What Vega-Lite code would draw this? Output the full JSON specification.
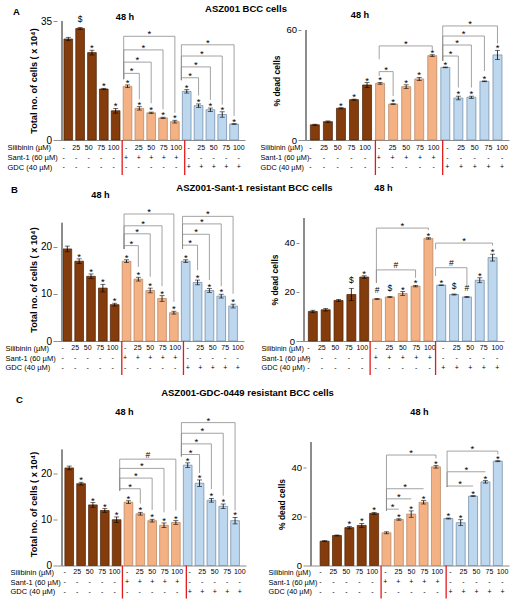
{
"$schema": "https://vega.github.io/schema/vega-lite/v6.json",
"padding": {"left": 5, "top": 3, "right": 2, "bottom": 2},
"background": "white",
"spacing": 6,
"config": {
  "font": "Liberation Sans",
  "view": {"stroke": null},
  "title": {"font": "Liberation Sans", "fontWeight": "bold", "fontSize": 9.5, "color": "#000"},
  "axis": {"labelFont": "Liberation Sans", "titleFont": "Liberation Sans", "labelColor": "#000", "titleColor": "#000", "domainColor": "#8c8c8c", "tickColor": "#8c8c8c", "grid": false},
  "axisY": {"domain": false, "tickSize": 4, "labelPadding": 1.5, "titlePadding": 2, "titleFontWeight": "bold", "labelFontSize": 10, "titleFontSize": 9.2},
  "axisX": {"labels": false, "ticks": false},
  "text": {"font": "Liberation Sans", "color": "#000"}
},
"datasets": {
"bars": [
{"p":"AL","x":1,"g":"S","v":29.7,"lo":29.2,"hi":30.2,"s":""},
{"p":"AL","x":2,"g":"S","v":32.8,"lo":32.5,"hi":33.1,"s":"$"},
{"p":"AL","x":3,"g":"S","v":25.7,"lo":25.0,"hi":26.4,"s":"*"},
{"p":"AL","x":4,"g":"S","v":15.0,"lo":14.8,"hi":15.2,"s":"*"},
{"p":"AL","x":5,"g":"S","v":8.6,"lo":7.9,"hi":9.3,"s":"*"},
{"p":"AL","x":6,"g":"T","v":15.8,"lo":15.4,"hi":16.2,"s":"*"},
{"p":"AL","x":7,"g":"T","v":9.3,"lo":8.8,"hi":9.8,"s":"*"},
{"p":"AL","x":8,"g":"T","v":8.0,"lo":7.8,"hi":8.2,"s":"*"},
{"p":"AL","x":9,"g":"T","v":6.5,"lo":6.3,"hi":6.7,"s":"*"},
{"p":"AL","x":10,"g":"T","v":5.4,"lo":5.0,"hi":5.8,"s":"*"},
{"p":"AL","x":11,"g":"G","v":14.3,"lo":13.8,"hi":14.8,"s":"*"},
{"p":"AL","x":12,"g":"G","v":10.1,"lo":9.6,"hi":10.6,"s":"*"},
{"p":"AL","x":13,"g":"G","v":8.9,"lo":8.4,"hi":9.4,"s":"*"},
{"p":"AL","x":14,"g":"G","v":7.5,"lo":6.7,"hi":8.3,"s":"*"},
{"p":"AL","x":15,"g":"G","v":4.7,"lo":4.6,"hi":4.8,"s":"*"},
{"p":"AR","x":1,"g":"S","v":8.3,"lo":8.0,"hi":8.6,"s":""},
{"p":"AR","x":2,"g":"S","v":10.0,"lo":9.6,"hi":10.4,"s":""},
{"p":"AR","x":3,"g":"S","v":17.3,"lo":17.0,"hi":17.6,"s":"*"},
{"p":"AR","x":4,"g":"S","v":22.0,"lo":21.7,"hi":22.3,"s":"*"},
{"p":"AR","x":5,"g":"S","v":30.0,"lo":28.7,"hi":31.3,"s":"*"},
{"p":"AR","x":6,"g":"T","v":30.9,"lo":30.4,"hi":31.4,"s":"*"},
{"p":"AR","x":7,"g":"T","v":19.6,"lo":19.4,"hi":19.8,"s":"*"},
{"p":"AR","x":8,"g":"T","v":29.1,"lo":28.1,"hi":30.1,"s":"*"},
{"p":"AR","x":9,"g":"T","v":33.3,"lo":32.5,"hi":34.1,"s":"*"},
{"p":"AR","x":10,"g":"T","v":46.0,"lo":45.5,"hi":46.5,"s":"*"},
{"p":"AR","x":11,"g":"G","v":39.6,"lo":39.4,"hi":39.8,"s":"*"},
{"p":"AR","x":12,"g":"G","v":22.9,"lo":21.9,"hi":23.9,"s":"*"},
{"p":"AR","x":13,"g":"G","v":23.3,"lo":22.7,"hi":23.9,"s":"*"},
{"p":"AR","x":14,"g":"G","v":32.0,"lo":31.8,"hi":32.2,"s":"*"},
{"p":"AR","x":15,"g":"G","v":46.4,"lo":43.9,"hi":48.9,"s":"*"},
{"p":"BL","x":1,"g":"S","v":19.5,"lo":18.9,"hi":20.1,"s":""},
{"p":"BL","x":2,"g":"S","v":16.9,"lo":16.4,"hi":17.4,"s":"*"},
{"p":"BL","x":3,"g":"S","v":13.7,"lo":13.2,"hi":14.2,"s":"*"},
{"p":"BL","x":4,"g":"S","v":11.2,"lo":10.4,"hi":12.0,"s":"*"},
{"p":"BL","x":5,"g":"S","v":7.7,"lo":7.4,"hi":8.0,"s":"*"},
{"p":"BL","x":6,"g":"T","v":16.9,"lo":16.6,"hi":17.2,"s":"*"},
{"p":"BL","x":7,"g":"T","v":13.1,"lo":12.7,"hi":13.5,"s":"*"},
{"p":"BL","x":8,"g":"T","v":10.7,"lo":10.2,"hi":11.2,"s":"*"},
{"p":"BL","x":9,"g":"T","v":9.0,"lo":8.4,"hi":9.6,"s":"*"},
{"p":"BL","x":10,"g":"T","v":6.0,"lo":5.7,"hi":6.3,"s":"*"},
{"p":"BL","x":11,"g":"G","v":16.9,"lo":16.6,"hi":17.2,"s":"*"},
{"p":"BL","x":12,"g":"G","v":12.4,"lo":11.9,"hi":12.9,"s":"*"},
{"p":"BL","x":13,"g":"G","v":10.7,"lo":10.3,"hi":11.1,"s":"*"},
{"p":"BL","x":14,"g":"G","v":9.5,"lo":9.1,"hi":9.9,"s":"*"},
{"p":"BL","x":15,"g":"G","v":7.4,"lo":7.0,"hi":7.8,"s":"*"},
{"p":"BR","x":1,"g":"S","v":12.0,"lo":11.5,"hi":12.5,"s":""},
{"p":"BR","x":2,"g":"S","v":12.7,"lo":12.2,"hi":13.2,"s":""},
{"p":"BR","x":3,"g":"S","v":16.5,"lo":16.1,"hi":16.9,"s":""},
{"p":"BR","x":4,"g":"S","v":18.9,"lo":16.4,"hi":21.4,"s":"$"},
{"p":"BR","x":5,"g":"S","v":26.0,"lo":25.5,"hi":26.5,"s":"*"},
{"p":"BR","x":6,"g":"T","v":17.1,"lo":16.9,"hi":17.3,"s":"#"},
{"p":"BR","x":7,"g":"T","v":17.9,"lo":17.7,"hi":18.1,"s":"$"},
{"p":"BR","x":8,"g":"T","v":19.3,"lo":18.5,"hi":20.1,"s":"*"},
{"p":"BR","x":9,"g":"T","v":22.3,"lo":22.0,"hi":22.6,"s":"*"},
{"p":"BR","x":10,"g":"T","v":41.7,"lo":41.4,"hi":42.0,"s":"*"},
{"p":"BR","x":11,"g":"G","v":22.7,"lo":22.6,"hi":22.8,"s":"*"},
{"p":"BR","x":12,"g":"G","v":18.9,"lo":18.7,"hi":19.1,"s":"$"},
{"p":"BR","x":13,"g":"G","v":17.9,"lo":17.7,"hi":18.1,"s":"#"},
{"p":"BR","x":14,"g":"G","v":24.7,"lo":23.7,"hi":25.7,"s":"*"},
{"p":"BR","x":15,"g":"G","v":33.9,"lo":32.5,"hi":35.3,"s":"*"},
{"p":"CL","x":1,"g":"S","v":21.1,"lo":20.7,"hi":21.5,"s":""},
{"p":"CL","x":2,"g":"S","v":17.7,"lo":17.4,"hi":18.0,"s":"*"},
{"p":"CL","x":3,"g":"S","v":13.1,"lo":12.6,"hi":13.6,"s":"*"},
{"p":"CL","x":4,"g":"S","v":11.9,"lo":11.5,"hi":12.3,"s":"*"},
{"p":"CL","x":5,"g":"S","v":9.9,"lo":9.3,"hi":10.5,"s":"*"},
{"p":"CL","x":6,"g":"T","v":13.7,"lo":13.4,"hi":14.0,"s":"*"},
{"p":"CL","x":7,"g":"T","v":11.2,"lo":10.9,"hi":11.5,"s":"*"},
{"p":"CL","x":8,"g":"T","v":9.7,"lo":9.4,"hi":10.0,"s":"*"},
{"p":"CL","x":9,"g":"T","v":8.7,"lo":8.2,"hi":9.2,"s":"*"},
{"p":"CL","x":10,"g":"T","v":9.3,"lo":8.9,"hi":9.7,"s":"*"},
{"p":"CL","x":11,"g":"G","v":21.7,"lo":21.2,"hi":22.2,"s":"*"},
{"p":"CL","x":12,"g":"G","v":17.8,"lo":17.1,"hi":18.5,"s":"*"},
{"p":"CL","x":13,"g":"G","v":14.1,"lo":13.7,"hi":14.5,"s":"*"},
{"p":"CL","x":14,"g":"G","v":12.8,"lo":12.3,"hi":13.3,"s":"*"},
{"p":"CL","x":15,"g":"G","v":9.7,"lo":9.0,"hi":10.4,"s":"*"},
{"p":"CR","x":1,"g":"S","v":9.9,"lo":9.7,"hi":10.1,"s":""},
{"p":"CR","x":2,"g":"S","v":12.2,"lo":12.0,"hi":12.4,"s":""},
{"p":"CR","x":3,"g":"S","v":15.4,"lo":14.9,"hi":15.9,"s":"*"},
{"p":"CR","x":4,"g":"S","v":16.3,"lo":15.5,"hi":17.1,"s":"*"},
{"p":"CR","x":5,"g":"S","v":21.2,"lo":20.8,"hi":21.6,"s":"*"},
{"p":"CR","x":6,"g":"T","v":13.3,"lo":12.9,"hi":13.7,"s":""},
{"p":"CR","x":7,"g":"T","v":18.7,"lo":18.4,"hi":19.0,"s":"*"},
{"p":"CR","x":8,"g":"T","v":20.9,"lo":19.6,"hi":22.2,"s":"*"},
{"p":"CR","x":9,"g":"T","v":25.7,"lo":25.0,"hi":26.4,"s":"*"},
{"p":"CR","x":10,"g":"T","v":40.1,"lo":39.6,"hi":40.6,"s":"*"},
{"p":"CR","x":11,"g":"G","v":19.1,"lo":18.9,"hi":19.3,"s":"*"},
{"p":"CR","x":12,"g":"G","v":17.4,"lo":16.2,"hi":18.6,"s":"*"},
{"p":"CR","x":13,"g":"G","v":28.2,"lo":28.0,"hi":28.4,"s":"*"},
{"p":"CR","x":14,"g":"G","v":34.0,"lo":33.5,"hi":34.5,"s":"*"},
{"p":"CR","x":15,"g":"G","v":42.4,"lo":42.2,"hi":42.6,"s":"*"}
],
"br": [
{"p":"AL","a":5.68,"b":7,"m":6.34,"l":19.6,"la":17.9,"lb":12.0,"s":"*"},
{"p":"AL","a":5.68,"b":8,"m":6.84,"l":22.9,"la":17.9,"lb":10.8,"s":"*"},
{"p":"AL","a":5.68,"b":9,"m":7.34,"l":26.5,"la":17.9,"lb":9.0,"s":"*"},
{"p":"AL","a":5.68,"b":10,"m":7.84,"l":30.5,"la":17.9,"lb":8.0,"s":"*"},
{"p":"AL","a":10.55,"b":12,"m":11.28,"l":18.3,"la":17.6,"lb":13.1,"s":"*"},
{"p":"AL","a":10.55,"b":13,"m":11.78,"l":21.5,"la":17.6,"lb":11.8,"s":"*"},
{"p":"AL","a":10.55,"b":14,"m":12.28,"l":24.7,"la":17.6,"lb":10.4,"s":"*"},
{"p":"AL","a":10.55,"b":15,"m":12.78,"l":28.0,"la":17.6,"lb":7.1,"s":"*"},
{"p":"AR","a":5.93,"b":7,"m":6.47,"l":37.3,"la":34.9,"lb":24.0,"s":"*"},
{"p":"AR","a":5.93,"b":10,"m":7.97,"l":51.3,"la":44.0,"lb":48.7,"s":"*"},
{"p":"AR","a":10.8,"b":12,"m":11.4,"l":45.8,"la":43.1,"lb":28.6,"s":"*"},
{"p":"AR","a":10.8,"b":13,"m":11.9,"l":51.8,"la":43.1,"lb":28.6,"s":"*"},
{"p":"AR","a":10.8,"b":14,"m":12.4,"l":56.7,"la":43.1,"lb":37.6,"s":"*"},
{"p":"AR","a":10.8,"b":15,"m":12.9,"l":62.2,"la":43.1,"lb":52.6,"s":"*"},
{"p":"BL","a":5.79,"b":7,"m":6.4,"l":20.2,"la":19.5,"lb":15.7,"s":"*"},
{"p":"BL","a":5.79,"b":8,"m":6.9,"l":22.7,"la":19.5,"lb":13.6,"s":"*"},
{"p":"BL","a":5.79,"b":9,"m":7.4,"l":24.4,"la":19.5,"lb":11.6,"s":"*"},
{"p":"BL","a":5.79,"b":10,"m":7.9,"l":26.9,"la":19.5,"lb":8.3,"s":"*"},
{"p":"BL","a":10.73,"b":12,"m":11.37,"l":20.3,"la":19.5,"lb":15.0,"s":"*"},
{"p":"BL","a":10.73,"b":13,"m":11.87,"l":22.6,"la":19.5,"lb":12.9,"s":"*"},
{"p":"BL","a":10.73,"b":14,"m":12.37,"l":24.8,"la":19.5,"lb":11.6,"s":"*"},
{"p":"BL","a":10.73,"b":15,"m":12.87,"l":26.4,"la":19.5,"lb":10.0,"s":"*"},
{"p":"BR","a":5.95,"b":9,"m":7.47,"l":28.9,"la":23.6,"lb":25.7,"s":"#"},
{"p":"BR","a":5.95,"b":10,"m":7.97,"l":45.9,"la":23.6,"lb":45.1,"s":"*"},
{"p":"BR","a":10.56,"b":13,"m":11.78,"l":29.8,"la":26.4,"lb":22.3,"s":"#"},
{"p":"BR","a":10.56,"b":15,"m":12.78,"l":39.8,"la":37.3,"lb":38.8,"s":"*"},
{"p":"CL","a":5.26,"b":7,"m":6.13,"l":16.6,"la":16.2,"lb":13.4,"s":"*"},
{"p":"CL","a":5.26,"b":8,"m":6.63,"l":18.9,"la":16.2,"lb":12.0,"s":"*"},
{"p":"CL","a":5.26,"b":9,"m":7.13,"l":21.0,"la":16.2,"lb":11.5,"s":"*"},
{"p":"CL","a":5.26,"b":10,"m":7.63,"l":23.0,"la":16.2,"lb":11.9,"s":"#"},
{"p":"CL","a":10.47,"b":12,"m":11.24,"l":24.0,"la":23.6,"lb":20.0,"s":"*"},
{"p":"CL","a":10.47,"b":13,"m":11.74,"l":26.3,"la":23.6,"lb":16.5,"s":"*"},
{"p":"CL","a":10.47,"b":14,"m":12.24,"l":28.6,"la":23.6,"lb":15.1,"s":"*"},
{"p":"CL","a":10.47,"b":15,"m":12.74,"l":30.9,"la":23.6,"lb":11.9,"s":"*"},
{"p":"CR","a":6.0,"b":7,"m":6.5,"l":22.9,"la":22.2,"lb":22.9,"s":"*"},
{"p":"CR","a":6.0,"b":8,"m":7.0,"l":27.1,"la":22.2,"lb":27.1,"s":"*"},
{"p":"CR","a":6.0,"b":9,"m":7.5,"l":31.2,"la":22.2,"lb":31.2,"s":"*"},
{"p":"CR","a":6.0,"b":10,"m":8.0,"l":44.9,"la":22.2,"lb":43.5,"s":"*"},
{"p":"CR","a":10.9,"b":13,"m":11.95,"l":32.3,"la":31.9,"lb":32.3,"s":"*"},
{"p":"CR","a":10.9,"b":14,"m":12.45,"l":38.1,"la":31.9,"lb":38.1,"s":"*"},
{"p":"CR","a":10.9,"b":15,"m":12.95,"l":46.5,"la":31.9,"lb":45.2,"s":"*"}
],
"sep": [
{"p":"AL","x":5.68},{"p":"AL","x":10.68},
{"p":"AR","x":5.75},{"p":"AR","x":10.66},
{"p":"BL","x":5.73},{"p":"BL","x":10.66},
{"p":"BR","x":5.58},{"p":"BR","x":10.43},
{"p":"CL","x":5.62},{"p":"CL","x":10.73},
{"p":"CR","x":5.67},{"p":"CR","x":10.67}
],
"tbl": [
{"x":1,"r":"Silibinin (µM)","t":"-"},{"x":2,"r":"Silibinin (µM)","t":"25"},{"x":3,"r":"Silibinin (µM)","t":"50"},{"x":4,"r":"Silibinin (µM)","t":"75"},{"x":5,"r":"Silibinin (µM)","t":"100"},
{"x":6,"r":"Silibinin (µM)","t":"-"},{"x":7,"r":"Silibinin (µM)","t":"25"},{"x":8,"r":"Silibinin (µM)","t":"50"},{"x":9,"r":"Silibinin (µM)","t":"75"},{"x":10,"r":"Silibinin (µM)","t":"100"},
{"x":11,"r":"Silibinin (µM)","t":"-"},{"x":12,"r":"Silibinin (µM)","t":"25"},{"x":13,"r":"Silibinin (µM)","t":"50"},{"x":14,"r":"Silibinin (µM)","t":"75"},{"x":15,"r":"Silibinin (µM)","t":"100"},
{"x":1,"r":"Sant-1 (60 µM)","t":"-"},{"x":2,"r":"Sant-1 (60 µM)","t":"-"},{"x":3,"r":"Sant-1 (60 µM)","t":"-"},{"x":4,"r":"Sant-1 (60 µM)","t":"-"},{"x":5,"r":"Sant-1 (60 µM)","t":"-"},
{"x":6,"r":"Sant-1 (60 µM)","t":"+"},{"x":7,"r":"Sant-1 (60 µM)","t":"+"},{"x":8,"r":"Sant-1 (60 µM)","t":"+"},{"x":9,"r":"Sant-1 (60 µM)","t":"+"},{"x":10,"r":"Sant-1 (60 µM)","t":"+"},
{"x":11,"r":"Sant-1 (60 µM)","t":"-"},{"x":12,"r":"Sant-1 (60 µM)","t":"-"},{"x":13,"r":"Sant-1 (60 µM)","t":"-"},{"x":14,"r":"Sant-1 (60 µM)","t":"-"},{"x":15,"r":"Sant-1 (60 µM)","t":"-"},
{"x":1,"r":"GDC (40 µM)","t":"-"},{"x":2,"r":"GDC (40 µM)","t":"-"},{"x":3,"r":"GDC (40 µM)","t":"-"},{"x":4,"r":"GDC (40 µM)","t":"-"},{"x":5,"r":"GDC (40 µM)","t":"-"},
{"x":6,"r":"GDC (40 µM)","t":"-"},{"x":7,"r":"GDC (40 µM)","t":"-"},{"x":8,"r":"GDC (40 µM)","t":"-"},{"x":9,"r":"GDC (40 µM)","t":"-"},{"x":10,"r":"GDC (40 µM)","t":"-"},
{"x":11,"r":"GDC (40 µM)","t":"+"},{"x":12,"r":"GDC (40 µM)","t":"+"},{"x":13,"r":"GDC (40 µM)","t":"+"},{"x":14,"r":"GDC (40 µM)","t":"+"},{"x":15,"r":"GDC (40 µM)","t":"+"}
]
},
"vconcat": [
{
 "title": {"text": "ASZ001 BCC cells", "anchor": "middle", "frame": "bounds", "dx": -12, "offset": -6, "fontSize": 9.5},
 "spacing": 15,
 "hconcat": [
  {"title": {"text": "A", "anchor": "start", "frame": "bounds", "dx": 6, "offset": -4, "fontSize": 9.5},
   "spacing": 0, "bounds": "flush",
   "vconcat": [
    {"title": {"text": "48 h", "frame": "group", "anchor": "middle", "dx": -26, "offset": -6.5, "fontSize": 9.2},
     "width": 188, "height": 119,
     "layer": [
      {"data": {"name": "bars"}, "transform": [{"filter": "datum.p === 'AL'"}],
       "layer": [
        {"mark": {"type": "bar", "width": 8.7, "strokeWidth": 0.7},
         "encoding": {
          "x": {"field": "x", "type": "quantitative", "scale": {"domain": [0.47, 15.5], "nice": false, "zero": false}, "title": null},
          "y": {"field": "v", "type": "quantitative", "scale": {"domain": [0, 35], "nice": false}, "axis": {"values": [0,5,10,15,20,25,30,35]}, "title": "Total no. of cells ( x 10⁴)"},
          "color": {"field": "g", "type": "nominal", "scale": {"domain": ["S","T","G"], "range": ["#843c0c","#f4b183","#bdd7ee"]}, "legend": null},
          "stroke": {"field": "g", "type": "nominal", "scale": {"domain": ["S","T","G"], "range": ["#4a1f05","#b3835f","#6b86a3"]}, "legend": null}}},
        {"mark": {"type": "rule", "color": "#8c8c8c", "strokeWidth": 1},
         "encoding": {
          "x": {"datum": 0.47, "type": "quantitative", "scale": {"domain": [0.47, 15.5], "nice": false, "zero": false}, "title": null},
          "y": {"datum": 0, "type": "quantitative", "scale": {"domain": [0, 35], "nice": false}, "title": "Total no. of cells ( x 10⁴)"},
          "y2": {"datum": 35}}},
        {"mark": {"type": "errorbar", "ticks": {"size": 5}, "thickness": 0.8, "color": "#000"},
         "encoding": {
          "x": {"field": "x", "type": "quantitative", "scale": {"domain": [0.47, 15.5], "nice": false, "zero": false}, "title": null},
          "y": {"field": "lo", "type": "quantitative", "scale": {"domain": [0, 35], "nice": false}, "title": "Total no. of cells ( x 10⁴)"},
          "y2": {"field": "hi"}}},
        {"transform": [{"filter": "datum.s === '*'"}],
         "mark": {"type": "text", "fontSize": 9.5, "dy": 1, "baseline": "alphabetic"},
         "encoding": {
          "x": {"field": "x", "type": "quantitative", "scale": {"domain": [0.47, 15.5], "nice": false, "zero": false}, "title": null},
          "y": {"field": "hi", "type": "quantitative", "scale": {"domain": [0, 35], "nice": false}, "title": "Total no. of cells ( x 10⁴)"},
          "text": {"field": "s"}}},
        {"transform": [{"filter": "datum.s === '$' || datum.s === '#'"}],
         "mark": {"type": "text", "fontSize": 8.5, "dy": -5, "baseline": "alphabetic"},
         "encoding": {
          "x": {"field": "x", "type": "quantitative", "scale": {"domain": [0.47, 15.5], "nice": false, "zero": false}, "title": null},
          "y": {"field": "hi", "type": "quantitative", "scale": {"domain": [0, 35], "nice": false}, "title": "Total no. of cells ( x 10⁴)"},
          "text": {"field": "s"}}}
       ]},
      {"data": {"name": "br"}, "transform": [{"filter": "datum.p === 'AL'"}],
       "layer": [
        {"mark": {"type": "rule", "color": "#8c8c8c", "strokeWidth": 0.8},
         "encoding": {
          "x": {"field": "a", "type": "quantitative", "scale": {"domain": [0.47, 15.5], "nice": false, "zero": false}, "title": null},
          "x2": {"field": "b"},
          "y": {"field": "l", "type": "quantitative", "scale": {"domain": [0, 35], "nice": false}, "title": "Total no. of cells ( x 10⁴)"}}},
        {"mark": {"type": "rule", "color": "#8c8c8c", "strokeWidth": 0.8},
         "encoding": {
          "x": {"field": "a", "type": "quantitative", "scale": {"domain": [0.47, 15.5], "nice": false, "zero": false}, "title": null},
          "y": {"field": "l", "type": "quantitative", "scale": {"domain": [0, 35], "nice": false}, "title": "Total no. of cells ( x 10⁴)"},
          "y2": {"field": "la"}}},
        {"mark": {"type": "rule", "color": "#8c8c8c", "strokeWidth": 0.8},
         "encoding": {
          "x": {"field": "b", "type": "quantitative", "scale": {"domain": [0.47, 15.5], "nice": false, "zero": false}, "title": null},
          "y": {"field": "l", "type": "quantitative", "scale": {"domain": [0, 35], "nice": false}, "title": "Total no. of cells ( x 10⁴)"},
          "y2": {"field": "lb"}}},
        {"transform": [{"filter": "datum.s === '*'"}],
         "mark": {"type": "text", "fontSize": 9.5, "dy": 1, "baseline": "alphabetic"},
         "encoding": {
          "x": {"field": "m", "type": "quantitative", "scale": {"domain": [0.47, 15.5], "nice": false, "zero": false}, "title": null},
          "y": {"field": "l", "type": "quantitative", "scale": {"domain": [0, 35], "nice": false}, "title": "Total no. of cells ( x 10⁴)"},
          "text": {"field": "s"}}},
        {"transform": [{"filter": "datum.s === '#'"}],
         "mark": {"type": "text", "fontSize": 8.5, "dy": -1.5, "baseline": "alphabetic"},
         "encoding": {
          "x": {"field": "m", "type": "quantitative", "scale": {"domain": [0.47, 15.5], "nice": false, "zero": false}, "title": null},
          "y": {"field": "l", "type": "quantitative", "scale": {"domain": [0, 35], "nice": false}, "title": "Total no. of cells ( x 10⁴)"},
          "text": {"field": "s"}}}
       ]}
     ]},
    {"width": 188, "height": 35,
     "layer": [
      {"data": {"name": "tbl"},
       "mark": {"type": "text", "fontSize": 7},
       "encoding": {
        "x": {"field": "x", "type": "quantitative", "scale": {"domain": [0.47, 15.5], "nice": false, "zero": false}, "axis": null},
        "y": {"field": "r", "type": "nominal", "sort": ["Silibinin (µM)", "Sant-1 (60 µM)", "GDC (40 µM)"], "scale": {"type": "point", "padding": 0.84}, "axis": {"title": null, "domain": false, "ticks": false, "tickSize": 0, "labelAlign": "left", "labelPadding": 50, "labelFontSize": 7.5}},
        "text": {"field": "t"}}},
      {"data": {"name": "sep"}, "transform": [{"filter": "datum.p === 'AL'"}],
       "mark": {"type": "rule", "color": "#e31a1c", "strokeWidth": 1.3},
       "encoding": {"x": {"field": "x", "type": "quantitative", "scale": {"domain": [0.47, 15.5], "nice": false, "zero": false}, "axis": null}}}
     ]}
   ]},
  {"spacing": 0, "bounds": "flush",
   "vconcat": [
    {"title": {"text": "48 h", "frame": "group", "anchor": "middle", "dx": -45, "offset": -1, "fontSize": 9.2},
     "width": 208, "height": 119,
     "layer": [
      {"data": {"name": "bars"}, "transform": [{"filter": "datum.p === 'AR'"}],
       "layer": [
        {"mark": {"type": "bar", "width": 9, "strokeWidth": 0.7},
         "encoding": {
          "x": {"field": "x", "type": "quantitative", "scale": {"domain": [0.32, 15.5], "nice": false, "zero": false}, "title": null},
          "y": {"field": "v", "type": "quantitative", "scale": {"domain": [0, 64.9], "nice": false}, "axis": {"values": [0,10,20,30,40,50,60], "labelFontSize": 9.5, "titleFontSize": 8.5, "tickSize": 3, "titlePadding": 4}, "title": "% dead cells"},
          "color": {"field": "g", "type": "nominal", "scale": {"domain": ["S","T","G"], "range": ["#843c0c","#f8cbad","#bdd7ee"]}, "legend": null},
          "stroke": {"field": "g", "type": "nominal", "scale": {"domain": ["S","T","G"], "range": ["#4a1f05","#b3835f","#6b86a3"]}, "legend": null}}},
        {"mark": {"type": "rule", "color": "#8c8c8c", "strokeWidth": 1},
         "encoding": {
          "x": {"datum": 0.32, "type": "quantitative", "scale": {"domain": [0.32, 15.5], "nice": false, "zero": false}, "title": null},
          "y": {"datum": 0, "type": "quantitative", "scale": {"domain": [0, 64.9], "nice": false}, "title": "% dead cells"},
          "y2": {"datum": 60}}},
        {"mark": {"type": "errorbar", "ticks": {"size": 5}, "thickness": 0.8, "color": "#000"},
         "encoding": {
          "x": {"field": "x", "type": "quantitative", "scale": {"domain": [0.32, 15.5], "nice": false, "zero": false}, "title": null},
          "y": {"field": "lo", "type": "quantitative", "scale": {"domain": [0, 64.9], "nice": false}, "title": "% dead cells"},
          "y2": {"field": "hi"}}},
        {"transform": [{"filter": "datum.s === '*'"}],
         "mark": {"type": "text", "fontSize": 9.5, "dy": 1, "baseline": "alphabetic"},
         "encoding": {
          "x": {"field": "x", "type": "quantitative", "scale": {"domain": [0.32, 15.5], "nice": false, "zero": false}, "title": null},
          "y": {"field": "hi", "type": "quantitative", "scale": {"domain": [0, 64.9], "nice": false}, "title": "% dead cells"},
          "text": {"field": "s"}}},
        {"transform": [{"filter": "datum.s === '$' || datum.s === '#'"}],
         "mark": {"type": "text", "fontSize": 8.5, "dy": -5, "baseline": "alphabetic"},
         "encoding": {
          "x": {"field": "x", "type": "quantitative", "scale": {"domain": [0.32, 15.5], "nice": false, "zero": false}, "title": null},
          "y": {"field": "hi", "type": "quantitative", "scale": {"domain": [0, 64.9], "nice": false}, "title": "% dead cells"},
          "text": {"field": "s"}}}
       ]},
      {"data": {"name": "br"}, "transform": [{"filter": "datum.p === 'AR'"}],
       "layer": [
        {"mark": {"type": "rule", "color": "#8c8c8c", "strokeWidth": 0.8},
         "encoding": {
          "x": {"field": "a", "type": "quantitative", "scale": {"domain": [0.32, 15.5], "nice": false, "zero": false}, "title": null},
          "x2": {"field": "b"},
          "y": {"field": "l", "type": "quantitative", "scale": {"domain": [0, 64.9], "nice": false}, "title": "% dead cells"}}},
        {"mark": {"type": "rule", "color": "#8c8c8c", "strokeWidth": 0.8},
         "encoding": {
          "x": {"field": "a", "type": "quantitative", "scale": {"domain": [0.32, 15.5], "nice": false, "zero": false}, "title": null},
          "y": {"field": "l", "type": "quantitative", "scale": {"domain": [0, 64.9], "nice": false}, "title": "% dead cells"},
          "y2": {"field": "la"}}},
        {"mark": {"type": "rule", "color": "#8c8c8c", "strokeWidth": 0.8},
         "encoding": {
          "x": {"field": "b", "type": "quantitative", "scale": {"domain": [0.32, 15.5], "nice": false, "zero": false}, "title": null},
          "y": {"field": "l", "type": "quantitative", "scale": {"domain": [0, 64.9], "nice": false}, "title": "% dead cells"},
          "y2": {"field": "lb"}}},
        {"transform": [{"filter": "datum.s === '*'"}],
         "mark": {"type": "text", "fontSize": 9.5, "dy": 1, "baseline": "alphabetic"},
         "encoding": {
          "x": {"field": "m", "type": "quantitative", "scale": {"domain": [0.32, 15.5], "nice": false, "zero": false}, "title": null},
          "y": {"field": "l", "type": "quantitative", "scale": {"domain": [0, 64.9], "nice": false}, "title": "% dead cells"},
          "text": {"field": "s"}}},
        {"transform": [{"filter": "datum.s === '#'"}],
         "mark": {"type": "text", "fontSize": 8.5, "dy": -1.5, "baseline": "alphabetic"},
         "encoding": {
          "x": {"field": "m", "type": "quantitative", "scale": {"domain": [0.32, 15.5], "nice": false, "zero": false}, "title": null},
          "y": {"field": "l", "type": "quantitative", "scale": {"domain": [0, 64.9], "nice": false}, "title": "% dead cells"},
          "text": {"field": "s"}}}
       ]}
     ]},
    {"width": 208, "height": 35,
     "layer": [
      {"data": {"name": "tbl"},
       "mark": {"type": "text", "fontSize": 7},
       "encoding": {
        "x": {"field": "x", "type": "quantitative", "scale": {"domain": [0.32, 15.5], "nice": false, "zero": false}, "axis": null},
        "y": {"field": "r", "type": "nominal", "sort": ["Silibinin (µM)", "Sant-1 (60 µM)", "GDC (40 µM)"], "scale": {"type": "point", "padding": 0.84}, "axis": {"title": null, "domain": false, "ticks": false, "tickSize": 0, "labelAlign": "left", "labelPadding": 41, "labelFontSize": 7.3}},
        "text": {"field": "t"}}},
      {"data": {"name": "sep"}, "transform": [{"filter": "datum.p === 'AR'"}],
       "mark": {"type": "rule", "color": "#e31a1c", "strokeWidth": 1.3},
       "encoding": {"x": {"field": "x", "type": "quantitative", "scale": {"domain": [0.32, 15.5], "nice": false, "zero": false}, "axis": null}}}
     ]}
   ]}
 ]
},
{
"spacing": 11.5,
"vconcat": [
{
 "title": {"text": "ASZ001-Sant-1 resistant BCC cells", "anchor": "middle", "frame": "bounds", "dx": 0, "offset": -8, "fontSize": 9.5},
 "spacing": 17,
 "hconcat": [
  {"title": {"text": "B", "anchor": "start", "frame": "bounds", "dx": 6, "offset": -4, "fontSize": 9.5},
   "spacing": 0, "bounds": "flush",
   "vconcat": [
    {"title": {"text": "48 h", "frame": "group", "anchor": "middle", "dx": -50, "offset": 7, "fontSize": 9.2},
     "width": 187, "height": 123,
     "layer": [
      {"data": {"name": "bars"}, "transform": [{"filter": "datum.p === 'BL'"}],
       "layer": [
        {"mark": {"type": "bar", "width": 8.7, "strokeWidth": 0.7},
         "encoding": {
          "x": {"field": "x", "type": "quantitative", "scale": {"domain": [0.55, 15.5], "nice": false, "zero": false}, "title": null},
          "y": {"field": "v", "type": "quantitative", "scale": {"domain": [0, 26.05], "nice": false}, "axis": {"values": [0,5,10,15,20,25]}, "title": "Total no. of cells ( x 10⁴)"},
          "color": {"field": "g", "type": "nominal", "scale": {"domain": ["S","T","G"], "range": ["#843c0c","#f6bf99","#bdd7ee"]}, "legend": null},
          "stroke": {"field": "g", "type": "nominal", "scale": {"domain": ["S","T","G"], "range": ["#4a1f05","#b3835f","#6b86a3"]}, "legend": null}}},
        {"mark": {"type": "rule", "color": "#8c8c8c", "strokeWidth": 1},
         "encoding": {
          "x": {"datum": 0.55, "type": "quantitative", "scale": {"domain": [0.55, 15.5], "nice": false, "zero": false}, "title": null},
          "y": {"datum": 0, "type": "quantitative", "scale": {"domain": [0, 26.05], "nice": false}, "title": "Total no. of cells ( x 10⁴)"},
          "y2": {"datum": 25}}},
        {"mark": {"type": "errorbar", "ticks": {"size": 5}, "thickness": 0.8, "color": "#000"},
         "encoding": {
          "x": {"field": "x", "type": "quantitative", "scale": {"domain": [0.55, 15.5], "nice": false, "zero": false}, "title": null},
          "y": {"field": "lo", "type": "quantitative", "scale": {"domain": [0, 26.05], "nice": false}, "title": "Total no. of cells ( x 10⁴)"},
          "y2": {"field": "hi"}}},
        {"transform": [{"filter": "datum.s === '*'"}],
         "mark": {"type": "text", "fontSize": 9.5, "dy": 1, "baseline": "alphabetic"},
         "encoding": {
          "x": {"field": "x", "type": "quantitative", "scale": {"domain": [0.55, 15.5], "nice": false, "zero": false}, "title": null},
          "y": {"field": "hi", "type": "quantitative", "scale": {"domain": [0, 26.05], "nice": false}, "title": "Total no. of cells ( x 10⁴)"},
          "text": {"field": "s"}}},
        {"transform": [{"filter": "datum.s === '$' || datum.s === '#'"}],
         "mark": {"type": "text", "fontSize": 8.5, "dy": -5, "baseline": "alphabetic"},
         "encoding": {
          "x": {"field": "x", "type": "quantitative", "scale": {"domain": [0.55, 15.5], "nice": false, "zero": false}, "title": null},
          "y": {"field": "hi", "type": "quantitative", "scale": {"domain": [0, 26.05], "nice": false}, "title": "Total no. of cells ( x 10⁴)"},
          "text": {"field": "s"}}}
       ]},
      {"data": {"name": "br"}, "transform": [{"filter": "datum.p === 'BL'"}],
       "layer": [
        {"mark": {"type": "rule", "color": "#8c8c8c", "strokeWidth": 0.8},
         "encoding": {
          "x": {"field": "a", "type": "quantitative", "scale": {"domain": [0.55, 15.5], "nice": false, "zero": false}, "title": null},
          "x2": {"field": "b"},
          "y": {"field": "l", "type": "quantitative", "scale": {"domain": [0, 26.05], "nice": false}, "title": "Total no. of cells ( x 10⁴)"}}},
        {"mark": {"type": "rule", "color": "#8c8c8c", "strokeWidth": 0.8},
         "encoding": {
          "x": {"field": "a", "type": "quantitative", "scale": {"domain": [0.55, 15.5], "nice": false, "zero": false}, "title": null},
          "y": {"field": "l", "type": "quantitative", "scale": {"domain": [0, 26.05], "nice": false}, "title": "Total no. of cells ( x 10⁴)"},
          "y2": {"field": "la"}}},
        {"mark": {"type": "rule", "color": "#8c8c8c", "strokeWidth": 0.8},
         "encoding": {
          "x": {"field": "b", "type": "quantitative", "scale": {"domain": [0.55, 15.5], "nice": false, "zero": false}, "title": null},
          "y": {"field": "l", "type": "quantitative", "scale": {"domain": [0, 26.05], "nice": false}, "title": "Total no. of cells ( x 10⁴)"},
          "y2": {"field": "lb"}}},
        {"transform": [{"filter": "datum.s === '*'"}],
         "mark": {"type": "text", "fontSize": 9.5, "dy": 1, "baseline": "alphabetic"},
         "encoding": {
          "x": {"field": "m", "type": "quantitative", "scale": {"domain": [0.55, 15.5], "nice": false, "zero": false}, "title": null},
          "y": {"field": "l", "type": "quantitative", "scale": {"domain": [0, 26.05], "nice": false}, "title": "Total no. of cells ( x 10⁴)"},
          "text": {"field": "s"}}},
        {"transform": [{"filter": "datum.s === '#'"}],
         "mark": {"type": "text", "fontSize": 8.5, "dy": -1.5, "baseline": "alphabetic"},
         "encoding": {
          "x": {"field": "m", "type": "quantitative", "scale": {"domain": [0.55, 15.5], "nice": false, "zero": false}, "title": null},
          "y": {"field": "l", "type": "quantitative", "scale": {"domain": [0, 26.05], "nice": false}, "title": "Total no. of cells ( x 10⁴)"},
          "text": {"field": "s"}}}
       ]}
     ]},
    {"width": 187, "height": 34,
     "layer": [
      {"data": {"name": "tbl"},
       "mark": {"type": "text", "fontSize": 7},
       "encoding": {
        "x": {"field": "x", "type": "quantitative", "scale": {"domain": [0.55, 15.5], "nice": false, "zero": false}, "axis": null},
        "y": {"field": "r", "type": "nominal", "sort": ["Silibinin (µM)", "Sant-1 (60 µM)", "GDC (40 µM)"], "scale": {"type": "point", "padding": 0.77}, "axis": {"title": null, "domain": false, "ticks": false, "tickSize": 0, "labelAlign": "left", "labelPadding": 52, "labelFontSize": 7.5}},
        "text": {"field": "t"}}},
      {"data": {"name": "sep"}, "transform": [{"filter": "datum.p === 'BL'"}],
       "mark": {"type": "rule", "color": "#e31a1c", "strokeWidth": 1.3},
       "encoding": {"x": {"field": "x", "type": "quantitative", "scale": {"domain": [0.55, 15.5], "nice": false, "zero": false}, "axis": null}}}
     ]}
   ]},
  {"spacing": 0, "bounds": "flush",
   "vconcat": [
    {"title": {"text": "48 h", "frame": "group", "anchor": "middle", "dx": -18, "offset": 24, "fontSize": 9.2},
     "width": 205, "height": 123,
     "layer": [
      {"data": {"name": "bars"}, "transform": [{"filter": "datum.p === 'BR'"}],
       "layer": [
        {"mark": {"type": "bar", "width": 9, "strokeWidth": 0.7},
         "encoding": {
          "x": {"field": "x", "type": "quantitative", "scale": {"domain": [0.31, 15.5], "nice": false, "zero": false}, "title": null},
          "y": {"field": "v", "type": "quantitative", "scale": {"domain": [0, 50], "nice": false}, "axis": {"values": [0,10,20,30,40,50], "labelFontSize": 9.5, "titleFontSize": 8.5, "tickSize": 3, "titlePadding": 4}, "title": "% dead cells"},
          "color": {"field": "g", "type": "nominal", "scale": {"domain": ["S","T","G"], "range": ["#843c0c","#f8cbad","#bdd7ee"]}, "legend": null},
          "stroke": {"field": "g", "type": "nominal", "scale": {"domain": ["S","T","G"], "range": ["#4a1f05","#b3835f","#6b86a3"]}, "legend": null}}},
        {"mark": {"type": "rule", "color": "#8c8c8c", "strokeWidth": 1},
         "encoding": {
          "x": {"datum": 0.31, "type": "quantitative", "scale": {"domain": [0.31, 15.5], "nice": false, "zero": false}, "title": null},
          "y": {"datum": 0, "type": "quantitative", "scale": {"domain": [0, 50], "nice": false}, "title": "% dead cells"},
          "y2": {"datum": 50}}},
        {"mark": {"type": "errorbar", "ticks": {"size": 5}, "thickness": 0.8, "color": "#000"},
         "encoding": {
          "x": {"field": "x", "type": "quantitative", "scale": {"domain": [0.31, 15.5], "nice": false, "zero": false}, "title": null},
          "y": {"field": "lo", "type": "quantitative", "scale": {"domain": [0, 50], "nice": false}, "title": "% dead cells"},
          "y2": {"field": "hi"}}},
        {"transform": [{"filter": "datum.s === '*'"}],
         "mark": {"type": "text", "fontSize": 9.5, "dy": 1, "baseline": "alphabetic"},
         "encoding": {
          "x": {"field": "x", "type": "quantitative", "scale": {"domain": [0.31, 15.5], "nice": false, "zero": false}, "title": null},
          "y": {"field": "hi", "type": "quantitative", "scale": {"domain": [0, 50], "nice": false}, "title": "% dead cells"},
          "text": {"field": "s"}}},
        {"transform": [{"filter": "datum.s === '$' || datum.s === '#'"}],
         "mark": {"type": "text", "fontSize": 8.5, "dy": -5, "baseline": "alphabetic"},
         "encoding": {
          "x": {"field": "x", "type": "quantitative", "scale": {"domain": [0.31, 15.5], "nice": false, "zero": false}, "title": null},
          "y": {"field": "hi", "type": "quantitative", "scale": {"domain": [0, 50], "nice": false}, "title": "% dead cells"},
          "text": {"field": "s"}}}
       ]},
      {"data": {"name": "br"}, "transform": [{"filter": "datum.p === 'BR'"}],
       "layer": [
        {"mark": {"type": "rule", "color": "#8c8c8c", "strokeWidth": 0.8},
         "encoding": {
          "x": {"field": "a", "type": "quantitative", "scale": {"domain": [0.31, 15.5], "nice": false, "zero": false}, "title": null},
          "x2": {"field": "b"},
          "y": {"field": "l", "type": "quantitative", "scale": {"domain": [0, 50], "nice": false}, "title": "% dead cells"}}},
        {"mark": {"type": "rule", "color": "#8c8c8c", "strokeWidth": 0.8},
         "encoding": {
          "x": {"field": "a", "type": "quantitative", "scale": {"domain": [0.31, 15.5], "nice": false, "zero": false}, "title": null},
          "y": {"field": "l", "type": "quantitative", "scale": {"domain": [0, 50], "nice": false}, "title": "% dead cells"},
          "y2": {"field": "la"}}},
        {"mark": {"type": "rule", "color": "#8c8c8c", "strokeWidth": 0.8},
         "encoding": {
          "x": {"field": "b", "type": "quantitative", "scale": {"domain": [0.31, 15.5], "nice": false, "zero": false}, "title": null},
          "y": {"field": "l", "type": "quantitative", "scale": {"domain": [0, 50], "nice": false}, "title": "% dead cells"},
          "y2": {"field": "lb"}}},
        {"transform": [{"filter": "datum.s === '*'"}],
         "mark": {"type": "text", "fontSize": 9.5, "dy": 1, "baseline": "alphabetic"},
         "encoding": {
          "x": {"field": "m", "type": "quantitative", "scale": {"domain": [0.31, 15.5], "nice": false, "zero": false}, "title": null},
          "y": {"field": "l", "type": "quantitative", "scale": {"domain": [0, 50], "nice": false}, "title": "% dead cells"},
          "text": {"field": "s"}}},
        {"transform": [{"filter": "datum.s === '#'"}],
         "mark": {"type": "text", "fontSize": 8.5, "dy": -1.5, "baseline": "alphabetic"},
         "encoding": {
          "x": {"field": "m", "type": "quantitative", "scale": {"domain": [0.31, 15.5], "nice": false, "zero": false}, "title": null},
          "y": {"field": "l", "type": "quantitative", "scale": {"domain": [0, 50], "nice": false}, "title": "% dead cells"},
          "text": {"field": "s"}}}
       ]}
     ]},
    {"width": 205, "height": 34,
     "layer": [
      {"data": {"name": "tbl"},
       "mark": {"type": "text", "fontSize": 7},
       "encoding": {
        "x": {"field": "x", "type": "quantitative", "scale": {"domain": [0.31, 15.5], "nice": false, "zero": false}, "axis": null},
        "y": {"field": "r", "type": "nominal", "sort": ["Silibinin (µM)", "Sant-1 (60 µM)", "GDC (40 µM)"], "scale": {"type": "point", "padding": 0.77}, "axis": {"title": null, "domain": false, "ticks": false, "tickSize": 0, "labelAlign": "left", "labelPadding": 38, "labelFontSize": 7.3}},
        "text": {"field": "t"}}},
      {"data": {"name": "sep"}, "transform": [{"filter": "datum.p === 'BR'"}],
       "mark": {"type": "rule", "color": "#e31a1c", "strokeWidth": 1.3},
       "encoding": {"x": {"field": "x", "type": "quantitative", "scale": {"domain": [0.31, 15.5], "nice": false, "zero": false}, "axis": null}}}
     ]}
   ]}
 ]
},
{
 "title": {"text": "ASZ001-GDC-0449 resistant BCC cells", "anchor": "middle", "frame": "bounds", "dx": -12, "offset": -2, "fontSize": 9.5},
 "spacing": 22,
 "hconcat": [
  {"title": {"text": "C", "anchor": "start", "frame": "bounds", "dx": 6, "offset": 3, "fontSize": 9.5},
   "spacing": 0, "bounds": "flush",
   "vconcat": [
    {"title": {"text": "48 h", "frame": "group", "anchor": "middle", "dx": -27, "offset": -1.2, "fontSize": 9.2},
     "width": 189, "height": 123,
     "layer": [
      {"data": {"name": "bars"}, "transform": [{"filter": "datum.p === 'CL'"}],
       "layer": [
        {"mark": {"type": "bar", "width": 8.7, "strokeWidth": 0.7},
         "encoding": {
          "x": {"field": "x", "type": "quantitative", "scale": {"domain": [0.39, 15.5], "nice": false, "zero": false}, "title": null},
          "y": {"field": "v", "type": "quantitative", "scale": {"domain": [0, 26.6], "nice": false}, "axis": {"values": [0,5,10,15,20,25]}, "title": "Total no. of cells ( x 10⁴)"},
          "color": {"field": "g", "type": "nominal", "scale": {"domain": ["S","T","G"], "range": ["#843c0c","#f4b183","#bdd7ee"]}, "legend": null},
          "stroke": {"field": "g", "type": "nominal", "scale": {"domain": ["S","T","G"], "range": ["#4a1f05","#b3835f","#6b86a3"]}, "legend": null}}},
        {"mark": {"type": "rule", "color": "#8c8c8c", "strokeWidth": 1},
         "encoding": {
          "x": {"datum": 0.39, "type": "quantitative", "scale": {"domain": [0.39, 15.5], "nice": false, "zero": false}, "title": null},
          "y": {"datum": 0, "type": "quantitative", "scale": {"domain": [0, 26.6], "nice": false}, "title": "Total no. of cells ( x 10⁴)"},
          "y2": {"datum": 25}}},
        {"mark": {"type": "errorbar", "ticks": {"size": 5}, "thickness": 0.8, "color": "#000"},
         "encoding": {
          "x": {"field": "x", "type": "quantitative", "scale": {"domain": [0.39, 15.5], "nice": false, "zero": false}, "title": null},
          "y": {"field": "lo", "type": "quantitative", "scale": {"domain": [0, 26.6], "nice": false}, "title": "Total no. of cells ( x 10⁴)"},
          "y2": {"field": "hi"}}},
        {"transform": [{"filter": "datum.s === '*'"}],
         "mark": {"type": "text", "fontSize": 9.5, "dy": 1, "baseline": "alphabetic"},
         "encoding": {
          "x": {"field": "x", "type": "quantitative", "scale": {"domain": [0.39, 15.5], "nice": false, "zero": false}, "title": null},
          "y": {"field": "hi", "type": "quantitative", "scale": {"domain": [0, 26.6], "nice": false}, "title": "Total no. of cells ( x 10⁴)"},
          "text": {"field": "s"}}},
        {"transform": [{"filter": "datum.s === '$' || datum.s === '#'"}],
         "mark": {"type": "text", "fontSize": 8.5, "dy": -5, "baseline": "alphabetic"},
         "encoding": {
          "x": {"field": "x", "type": "quantitative", "scale": {"domain": [0.39, 15.5], "nice": false, "zero": false}, "title": null},
          "y": {"field": "hi", "type": "quantitative", "scale": {"domain": [0, 26.6], "nice": false}, "title": "Total no. of cells ( x 10⁴)"},
          "text": {"field": "s"}}}
       ]},
      {"data": {"name": "br"}, "transform": [{"filter": "datum.p === 'CL'"}],
       "layer": [
        {"mark": {"type": "rule", "color": "#8c8c8c", "strokeWidth": 0.8},
         "encoding": {
          "x": {"field": "a", "type": "quantitative", "scale": {"domain": [0.39, 15.5], "nice": false, "zero": false}, "title": null},
          "x2": {"field": "b"},
          "y": {"field": "l", "type": "quantitative", "scale": {"domain": [0, 26.6], "nice": false}, "title": "Total no. of cells ( x 10⁴)"}}},
        {"mark": {"type": "rule", "color": "#8c8c8c", "strokeWidth": 0.8},
         "encoding": {
          "x": {"field": "a", "type": "quantitative", "scale": {"domain": [0.39, 15.5], "nice": false, "zero": false}, "title": null},
          "y": {"field": "l", "type": "quantitative", "scale": {"domain": [0, 26.6], "nice": false}, "title": "Total no. of cells ( x 10⁴)"},
          "y2": {"field": "la"}}},
        {"mark": {"type": "rule", "color": "#8c8c8c", "strokeWidth": 0.8},
         "encoding": {
          "x": {"field": "b", "type": "quantitative", "scale": {"domain": [0.39, 15.5], "nice": false, "zero": false}, "title": null},
          "y": {"field": "l", "type": "quantitative", "scale": {"domain": [0, 26.6], "nice": false}, "title": "Total no. of cells ( x 10⁴)"},
          "y2": {"field": "lb"}}},
        {"transform": [{"filter": "datum.s === '*'"}],
         "mark": {"type": "text", "fontSize": 9.5, "dy": 1, "baseline": "alphabetic"},
         "encoding": {
          "x": {"field": "m", "type": "quantitative", "scale": {"domain": [0.39, 15.5], "nice": false, "zero": false}, "title": null},
          "y": {"field": "l", "type": "quantitative", "scale": {"domain": [0, 26.6], "nice": false}, "title": "Total no. of cells ( x 10⁴)"},
          "text": {"field": "s"}}},
        {"transform": [{"filter": "datum.s === '#'"}],
         "mark": {"type": "text", "fontSize": 8.5, "dy": -1.5, "baseline": "alphabetic"},
         "encoding": {
          "x": {"field": "m", "type": "quantitative", "scale": {"domain": [0.39, 15.5], "nice": false, "zero": false}, "title": null},
          "y": {"field": "l", "type": "quantitative", "scale": {"domain": [0, 26.6], "nice": false}, "title": "Total no. of cells ( x 10⁴)"},
          "text": {"field": "s"}}}
       ]}
     ]},
    {"width": 189, "height": 33,
     "layer": [
      {"data": {"name": "tbl"},
       "mark": {"type": "text", "fontSize": 7},
       "encoding": {
        "x": {"field": "x", "type": "quantitative", "scale": {"domain": [0.39, 15.5], "nice": false, "zero": false}, "axis": null},
        "y": {"field": "r", "type": "nominal", "sort": ["Silibinin (µM)", "Sant-1 (60 µM)", "GDC (40 µM)"], "scale": {"type": "point", "padding": 0.68}, "axis": {"title": null, "domain": false, "ticks": false, "tickSize": 0, "labelAlign": "left", "labelPadding": 47, "labelFontSize": 7.5}},
        "text": {"field": "t"}}},
      {"data": {"name": "sep"}, "transform": [{"filter": "datum.p === 'CL'"}],
       "mark": {"type": "rule", "color": "#e31a1c", "strokeWidth": 1.3},
       "encoding": {"x": {"field": "x", "type": "quantitative", "scale": {"domain": [0.39, 15.5], "nice": false, "zero": false}, "axis": null}}}
     ]}
   ]},
  {"spacing": 0, "bounds": "flush",
   "vconcat": [
    {"title": {"text": "48 h", "frame": "group", "anchor": "middle", "dx": 12, "offset": 24.5, "fontSize": 9.2},
     "width": 203, "height": 123,
     "layer": [
      {"data": {"name": "bars"}, "transform": [{"filter": "datum.p === 'CR'"}],
       "layer": [
        {"mark": {"type": "bar", "width": 9, "strokeWidth": 0.7},
         "encoding": {
          "x": {"field": "x", "type": "quantitative", "scale": {"domain": [-0.1, 15.5], "nice": false, "zero": false}, "title": null},
          "y": {"field": "v", "type": "quantitative", "scale": {"domain": [0, 50], "nice": false}, "axis": {"values": [0,10,20,30,40,50], "labelFontSize": 9.5, "titleFontSize": 8.5, "tickSize": 3, "titlePadding": 4}, "title": "% dead cells"},
          "color": {"field": "g", "type": "nominal", "scale": {"domain": ["S","T","G"], "range": ["#843c0c","#f8cbad","#bdd7ee"]}, "legend": null},
          "stroke": {"field": "g", "type": "nominal", "scale": {"domain": ["S","T","G"], "range": ["#4a1f05","#b3835f","#6b86a3"]}, "legend": null}}},
        {"mark": {"type": "rule", "color": "#8c8c8c", "strokeWidth": 1},
         "encoding": {
          "x": {"datum": -0.1, "type": "quantitative", "scale": {"domain": [-0.1, 15.5], "nice": false, "zero": false}, "title": null},
          "y": {"datum": 0, "type": "quantitative", "scale": {"domain": [0, 50], "nice": false}, "title": "% dead cells"},
          "y2": {"datum": 50}}},
        {"mark": {"type": "errorbar", "ticks": {"size": 5}, "thickness": 0.8, "color": "#000"},
         "encoding": {
          "x": {"field": "x", "type": "quantitative", "scale": {"domain": [-0.1, 15.5], "nice": false, "zero": false}, "title": null},
          "y": {"field": "lo", "type": "quantitative", "scale": {"domain": [0, 50], "nice": false}, "title": "% dead cells"},
          "y2": {"field": "hi"}}},
        {"transform": [{"filter": "datum.s === '*'"}],
         "mark": {"type": "text", "fontSize": 9.5, "dy": 1, "baseline": "alphabetic"},
         "encoding": {
          "x": {"field": "x", "type": "quantitative", "scale": {"domain": [-0.1, 15.5], "nice": false, "zero": false}, "title": null},
          "y": {"field": "hi", "type": "quantitative", "scale": {"domain": [0, 50], "nice": false}, "title": "% dead cells"},
          "text": {"field": "s"}}},
        {"transform": [{"filter": "datum.s === '$' || datum.s === '#'"}],
         "mark": {"type": "text", "fontSize": 8.5, "dy": -5, "baseline": "alphabetic"},
         "encoding": {
          "x": {"field": "x", "type": "quantitative", "scale": {"domain": [-0.1, 15.5], "nice": false, "zero": false}, "title": null},
          "y": {"field": "hi", "type": "quantitative", "scale": {"domain": [0, 50], "nice": false}, "title": "% dead cells"},
          "text": {"field": "s"}}}
       ]},
      {"data": {"name": "br"}, "transform": [{"filter": "datum.p === 'CR'"}],
       "layer": [
        {"mark": {"type": "rule", "color": "#8c8c8c", "strokeWidth": 0.8},
         "encoding": {
          "x": {"field": "a", "type": "quantitative", "scale": {"domain": [-0.1, 15.5], "nice": false, "zero": false}, "title": null},
          "x2": {"field": "b"},
          "y": {"field": "l", "type": "quantitative", "scale": {"domain": [0, 50], "nice": false}, "title": "% dead cells"}}},
        {"mark": {"type": "rule", "color": "#8c8c8c", "strokeWidth": 0.8},
         "encoding": {
          "x": {"field": "a", "type": "quantitative", "scale": {"domain": [-0.1, 15.5], "nice": false, "zero": false}, "title": null},
          "y": {"field": "l", "type": "quantitative", "scale": {"domain": [0, 50], "nice": false}, "title": "% dead cells"},
          "y2": {"field": "la"}}},
        {"mark": {"type": "rule", "color": "#8c8c8c", "strokeWidth": 0.8},
         "encoding": {
          "x": {"field": "b", "type": "quantitative", "scale": {"domain": [-0.1, 15.5], "nice": false, "zero": false}, "title": null},
          "y": {"field": "l", "type": "quantitative", "scale": {"domain": [0, 50], "nice": false}, "title": "% dead cells"},
          "y2": {"field": "lb"}}},
        {"transform": [{"filter": "datum.s === '*'"}],
         "mark": {"type": "text", "fontSize": 9.5, "dy": 1, "baseline": "alphabetic"},
         "encoding": {
          "x": {"field": "m", "type": "quantitative", "scale": {"domain": [-0.1, 15.5], "nice": false, "zero": false}, "title": null},
          "y": {"field": "l", "type": "quantitative", "scale": {"domain": [0, 50], "nice": false}, "title": "% dead cells"},
          "text": {"field": "s"}}},
        {"transform": [{"filter": "datum.s === '#'"}],
         "mark": {"type": "text", "fontSize": 8.5, "dy": -1.5, "baseline": "alphabetic"},
         "encoding": {
          "x": {"field": "m", "type": "quantitative", "scale": {"domain": [-0.1, 15.5], "nice": false, "zero": false}, "title": null},
          "y": {"field": "l", "type": "quantitative", "scale": {"domain": [0, 50], "nice": false}, "title": "% dead cells"},
          "text": {"field": "s"}}}
       ]}
     ]},
    {"width": 203, "height": 33,
     "layer": [
      {"data": {"name": "tbl"},
       "mark": {"type": "text", "fontSize": 7},
       "encoding": {
        "x": {"field": "x", "type": "quantitative", "scale": {"domain": [-0.1, 15.5], "nice": false, "zero": false}, "axis": null},
        "y": {"field": "r", "type": "nominal", "sort": ["Silibinin (µM)", "Sant-1 (60 µM)", "GDC (40 µM)"], "scale": {"type": "point", "padding": 0.68}, "axis": {"title": null, "domain": false, "ticks": false, "tickSize": 0, "labelAlign": "left", "labelPadding": 38, "labelFontSize": 7.3}},
        "text": {"field": "t"}}},
      {"data": {"name": "sep"}, "transform": [{"filter": "datum.p === 'CR'"}],
       "mark": {"type": "rule", "color": "#e31a1c", "strokeWidth": 1.3},
       "encoding": {"x": {"field": "x", "type": "quantitative", "scale": {"domain": [-0.1, 15.5], "nice": false, "zero": false}, "axis": null}}}
     ]}
   ]}
 ]
}
]
}
]
}
